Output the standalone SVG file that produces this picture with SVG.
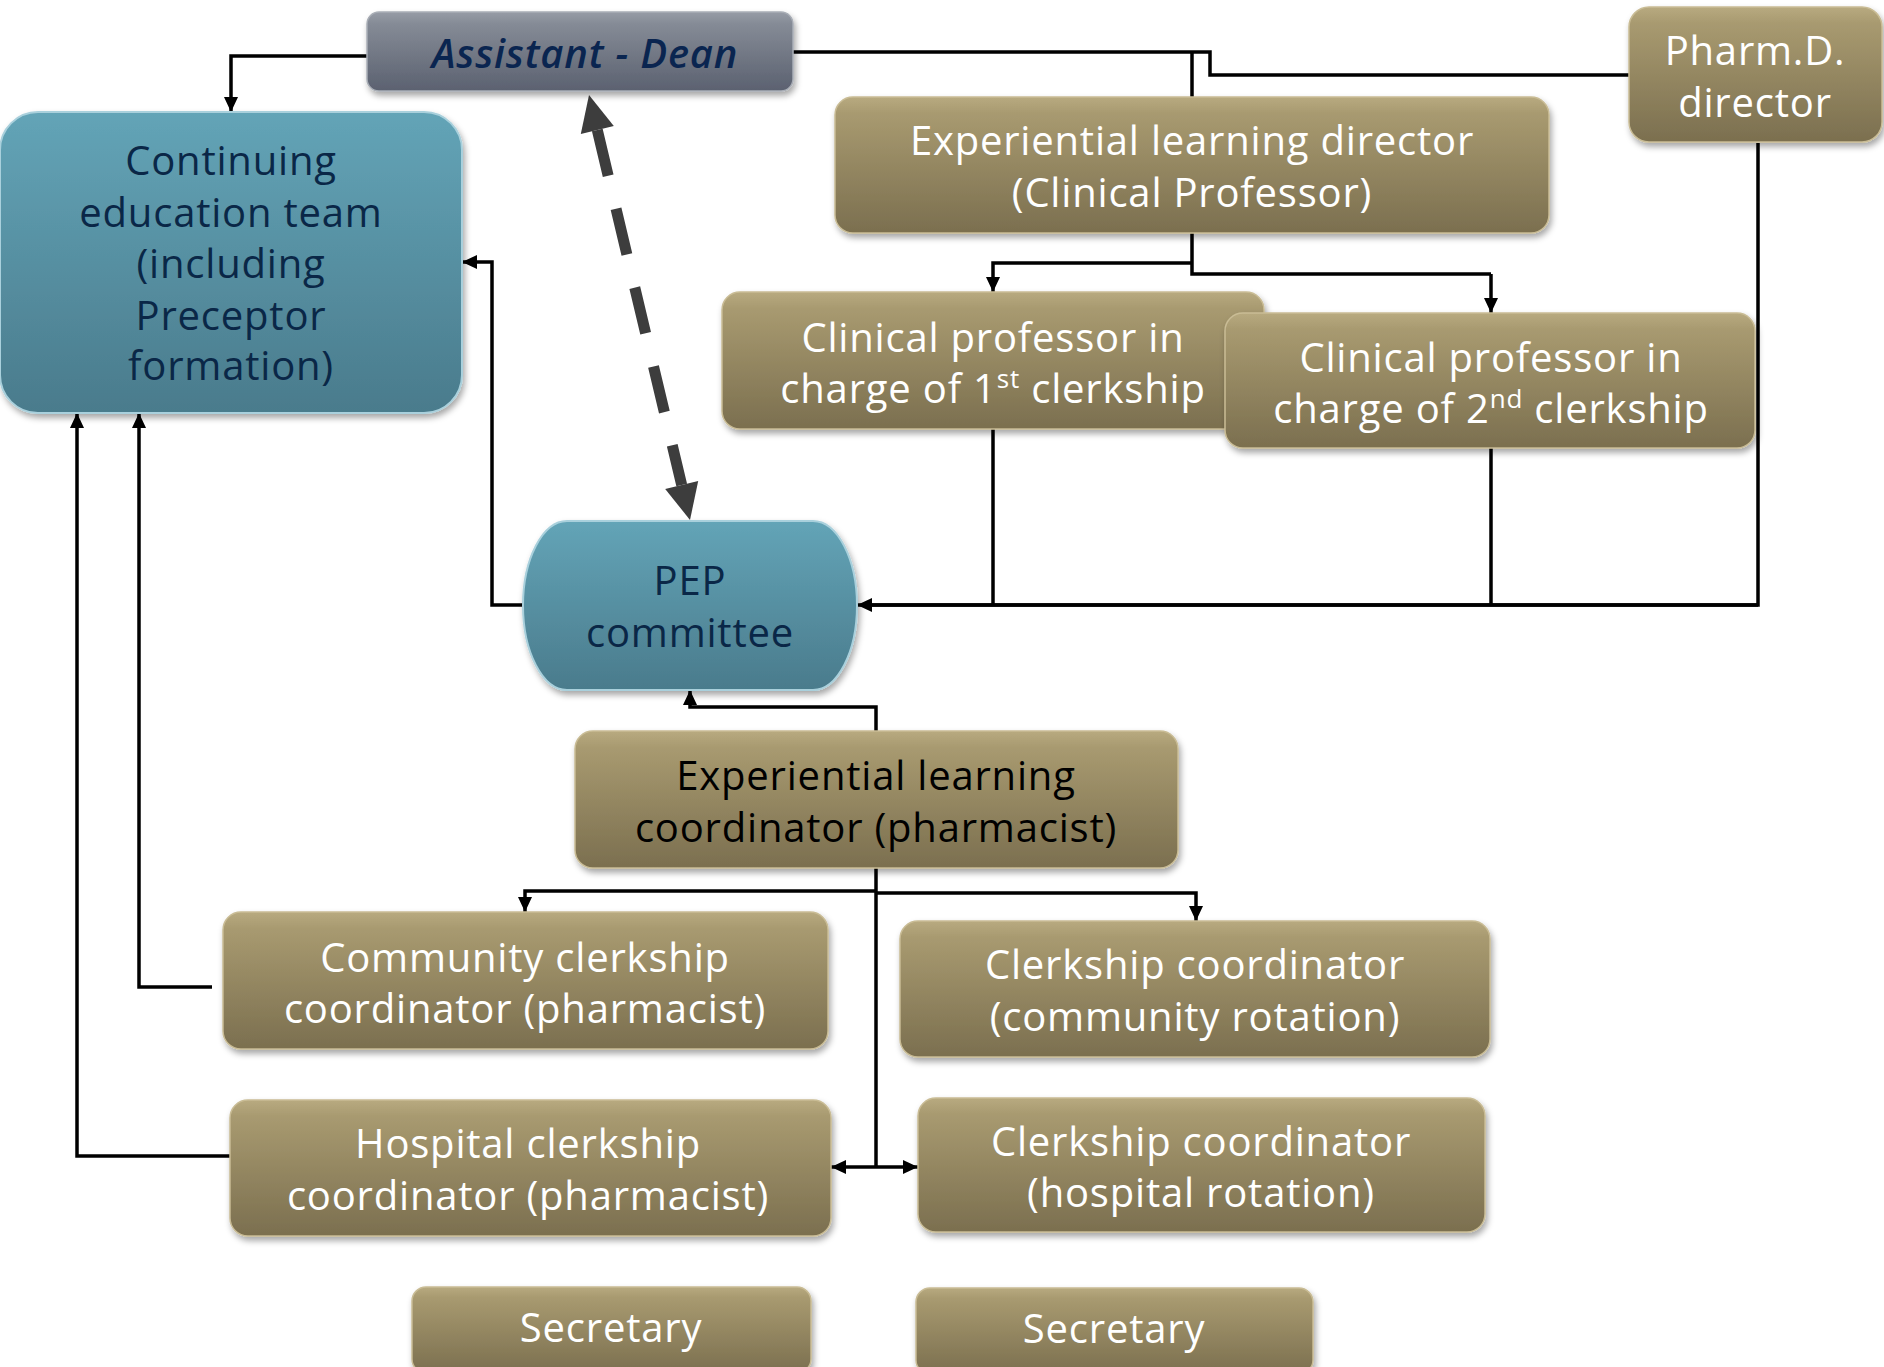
<svg xmlns="http://www.w3.org/2000/svg" width="1884" height="1367" viewBox="0 0 1884 1367">
<defs>
<linearGradient id="gold" x1="0" y1="0" x2="0" y2="1">
<stop offset="0" stop-color="#b8aa80"/>
<stop offset="0.12" stop-color="#a89a70"/>
<stop offset="1" stop-color="#7b6f4f"/>
</linearGradient>
<linearGradient id="teal" x1="0" y1="0" x2="0" y2="1">
<stop offset="0" stop-color="#63a4b7"/>
<stop offset="1" stop-color="#4a7b8c"/>
</linearGradient>
<linearGradient id="gray" x1="0" y1="0" x2="0" y2="1">
<stop offset="0" stop-color="#979ca6"/>
<stop offset="0.15" stop-color="#858b96"/>
<stop offset="1" stop-color="#5b6170"/>
</linearGradient>
<filter id="sh" x="-10%" y="-10%" width="120%" height="130%">
<feDropShadow dx="2" dy="4" stdDeviation="3" flood-color="#000" flood-opacity="0.35"/>
</filter>
<marker id="ah" markerUnits="userSpaceOnUse" markerWidth="15" markerHeight="14" refX="15" refY="7" orient="auto">
<path d="M0,0 L15,7 L0,14 z" fill="#000"/>
</marker>
<style>
.gb{fill:url(#gold);stroke:#c9bc95;stroke-width:1.5;filter:url(#sh)}
.tb{fill:url(#teal);stroke:#a9d0dc;stroke-width:2;filter:url(#sh)}
.t{font-family:"Open Sans","Liberation Sans",sans-serif;font-size:40px;text-anchor:middle;letter-spacing:0.8px}
.w{fill:#ffffff}
.n{fill:#0a2747}
.k{fill:#000000}
.c{fill:none;stroke:#000;stroke-width:3.5}
.ca{fill:none;stroke:#000;stroke-width:3.5;marker-end:url(#ah)}
</style>
</defs>
<rect width="1884" height="1367" fill="#ffffff"/>

<g id="connectors">
<polyline class="c" points="793,52 1210,52 1210,75 1629,75"/>
<polyline class="c" points="1192,52 1192,97"/>
<polyline class="ca" points="367,56 231,56 231,112"/>
<polyline class="c" points="1192,233 1192,274 1491,274"/>
<polyline class="ca" points="1491,274 1491,313"/>
<polyline class="ca" points="1192,263 993,263 993,292"/>
<polyline class="c" points="1758,143 1758,605 870,605"/>
<polyline class="ca" points="1758,605 857,605"/>
<polyline class="c" points="993,429 993,605"/>
<polyline class="c" points="1491,448 1491,605"/>
<polyline class="ca" points="523,605 492,605 492,262 462,262"/>
<polyline class="ca" points="876,731 876,707 690,707 690,690"/>
<polyline class="c" points="876,868 876,1167"/>
<polyline class="ca" points="876,891 525,891 525,912"/>
<polyline class="ca" points="876,893 1196,893 1196,921"/>
<polyline class="ca" points="876,1167 831,1167"/>
<polyline class="ca" points="876,1167 918,1167"/>
<polyline class="ca" points="212,987 139,987 139,413"/>
<polyline class="ca" points="230,1156 77,1156 77,413"/>
<g id="dashed-link">
<line x1="597.3" y1="130" x2="681.7" y2="485" stroke="#3d3d3d" stroke-width="11" stroke-dasharray="47 34"/>
<polygon points="589,95 613.8,126.1 580.8,133.9" fill="#3d3d3d"/>
<polygon points="690,520 698.2,481.1 665.2,488.9" fill="#3d3d3d"/>
</g>
</g>

<g id="assistant-dean">
<rect x="367" y="12" width="426" height="79" rx="12" fill="url(#gray)" stroke="#a9aeb6" stroke-width="1.5" filter="url(#sh)"/>
<text class="t" x="585" y="68" font-style="italic" font-size="42" letter-spacing="2" font-weight="600" fill="#0a2550">Assistant - Dean</text>
</g>

<g id="continuing-education">
<rect class="tb" x="0" y="112" width="462" height="301" rx="38"/>
<text class="t n" x="231" y="175">Continuing</text>
<text class="t n" x="231" y="227">education team</text>
<text class="t n" x="231" y="278">(including</text>
<text class="t n" x="231" y="330">Preceptor</text>
<text class="t n" x="231" y="380">formation)</text>
</g>

<g id="pharmd-director">
<rect class="gb" x="1629" y="7" width="253" height="135" rx="20"/>
<text class="t w" x="1755" y="65">Pharm.D.</text>
<text class="t w" x="1755" y="117">director</text>
</g>

<g id="exp-learning-director">
<rect class="gb" x="835" y="97" width="714" height="136" rx="18"/>
<text class="t w" x="1192" y="155">Experiential learning director</text>
<text class="t w" x="1192" y="207">(Clinical Professor)</text>
</g>

<g id="clinical-prof-1">
<rect class="gb" x="722" y="292" width="542" height="137" rx="18"/>
<text class="t w" x="993" y="352">Clinical professor in</text>
<text class="t w" x="993" y="403">charge of 1<tspan dy="-15" font-size="26">st</tspan><tspan dy="15"> clerkship</tspan></text>
</g>

<g id="clinical-prof-2">
<rect class="gb" x="1225" y="313" width="530" height="135" rx="18"/>
<text class="t w" x="1491" y="372">Clinical professor in</text>
<text class="t w" x="1491" y="423">charge of 2<tspan dy="-15" font-size="26">nd</tspan><tspan dy="15"> clerkship</tspan></text>
</g>

<g id="pep-committee">
<path class="tb" d="M567,521 H813 A44,84.5 0 0 1 857,605.5 A44,84.5 0 0 1 813,690 H567 A44,84.5 0 0 1 523,605.5 A44,84.5 0 0 1 567,521 Z"/>
<text class="t n" x="690" y="595">PEP</text>
<text class="t n" x="690" y="647">committee</text>
</g>

<g id="exp-learning-coordinator">
<rect class="gb" x="575" y="731" width="603" height="137" rx="18"/>
<text class="t k" x="876" y="790">Experiential learning</text>
<text class="t k" x="876" y="842">coordinator (pharmacist)</text>
</g>

<g id="community-clerkship-coordinator">
<rect class="gb" x="223" y="912" width="605" height="137" rx="18"/>
<text class="t w" x="525" y="972">Community clerkship</text>
<text class="t w" x="525" y="1023">coordinator (pharmacist)</text>
</g>

<g id="clerkship-coordinator-community">
<rect class="gb" x="900" y="921" width="590" height="136" rx="18"/>
<text class="t w" x="1195" y="979">Clerkship coordinator</text>
<text class="t w" x="1195" y="1031">(community rotation)</text>
</g>

<g id="hospital-clerkship-coordinator">
<rect class="gb" x="230" y="1100" width="601" height="136" rx="18"/>
<text class="t w" x="528" y="1158">Hospital clerkship</text>
<text class="t w" x="528" y="1210">coordinator (pharmacist)</text>
</g>

<g id="clerkship-coordinator-hospital">
<rect class="gb" x="918" y="1098" width="567" height="134" rx="18"/>
<text class="t w" x="1201" y="1156">Clerkship coordinator</text>
<text class="t w" x="1201" y="1207">(hospital rotation)</text>
</g>

<g id="secretary-1">
<rect class="gb" x="412" y="1287" width="399" height="86" rx="14"/>
<text class="t w" x="611" y="1342">Secretary</text>
</g>

<g id="secretary-2">
<rect class="gb" x="916" y="1288" width="397" height="86" rx="14"/>
<text class="t w" x="1114" y="1343">Secretary</text>
</g>
</svg>
